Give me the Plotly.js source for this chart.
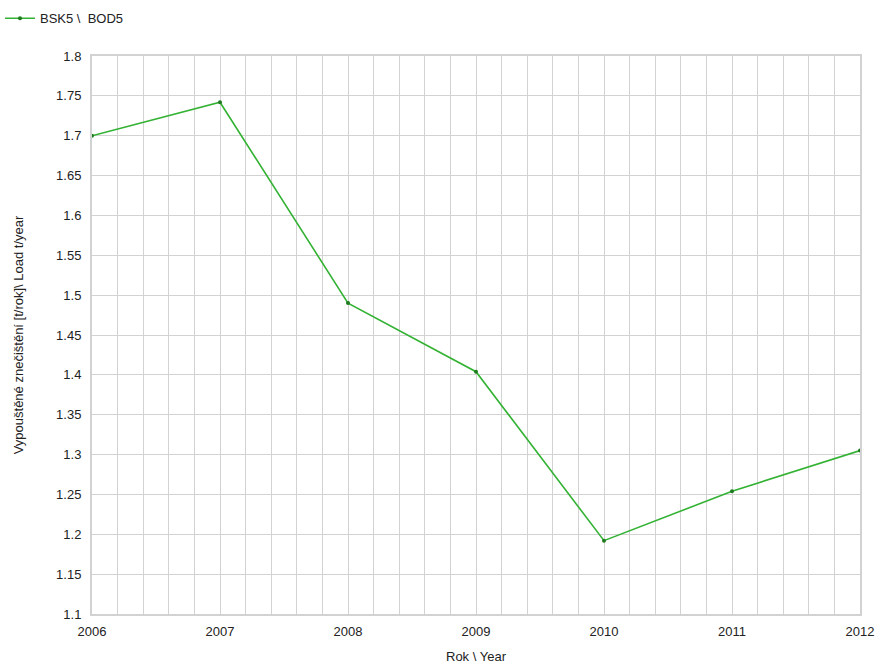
<!DOCTYPE html>
<html>
<head>
<meta charset="utf-8">
<script src="https://cdn.plot.ly/plotly-3.0.1.min.js"></script>
<style>html,body{margin:0;padding:0;background:#fff;}#chart{width:876px;height:664px;}</style>
</head>
<body>
<div id="chart"></div>
<script>
const years = [2006, 2007, 2008, 2009, 2010, 2011, 2012];
const bod5 = [1.700, 1.742, 1.490, 1.404, 1.192, 1.254, 1.305];
const seriesName = 'BSK5 \\  BOD5';
const yTickVals = [1.1, 1.15, 1.2, 1.25, 1.3, 1.35, 1.4, 1.45, 1.5, 1.55, 1.6, 1.65, 1.7, 1.75, 1.8];
const yTickText = ['1.1', '1.15', '1.2', '1.25', '1.3', '1.35', '1.4', '1.45', '1.5', '1.55', '1.6', '1.65', '1.7', '1.75', '1.8'];

const trace = {
  x: years, y: bod5, name: seriesName, type: 'scatter', mode: 'lines+markers',
  line: {color: '#33b233', width: 1.6},
  marker: {color: '#1f7a1f', size: 4}
};

const font = {family: 'Liberation Sans, Arial, sans-serif', size: 13, color: '#222'};

const layout = {
  width: 876, height: 664,
  margin: {l: 92, r: 16, t: 56, b: 50},
  paper_bgcolor: '#fff', plot_bgcolor: '#fff',
  font: font,
  showlegend: true,
  legend: {orientation: 'h', xref: 'paper', yref: 'container', x: -0.138, y: 0.995, xanchor: 'left', yanchor: 'top',
           font: font, itemwidth: 30, bgcolor: 'rgba(0,0,0,0)'},
  xaxis: {
    range: [2006, 2012], tickvals: years, ticktext: years.map(String),
    showgrid: true, gridcolor: '#d2d2d2', gridwidth: 1,
    minor: {dtick: 0.2, showgrid: true, gridcolor: '#d2d2d2', gridwidth: 1},
    showline: true, linecolor: '#d2d2d2', linewidth: 2, mirror: true,
    zeroline: false, ticks: '', ticklen: 0, ticklabelstandoff: 4,
    tickfont: font,
    title: {text: 'Rok \\ Year', font: font, standoff: 18},
    automargin: false
  },
  yaxis: {
    range: [1.1, 1.8], tickvals: yTickVals, ticktext: yTickText,
    showgrid: true, gridcolor: '#d2d2d2', gridwidth: 1,
    showline: true, linecolor: '#d2d2d2', linewidth: 2, mirror: true,
    zeroline: false, ticks: '', ticklabelstandoff: 6,
    tickfont: font,
    title: {text: 'Vypouštěné znečištění [t/rok]\\ Load t/year', font: font, standoff: 30},
    automargin: false
  }
};

Plotly.newPlot('chart', [trace], layout, {displayModeBar: false, staticPlot: true});
</script>
</body>
</html>
